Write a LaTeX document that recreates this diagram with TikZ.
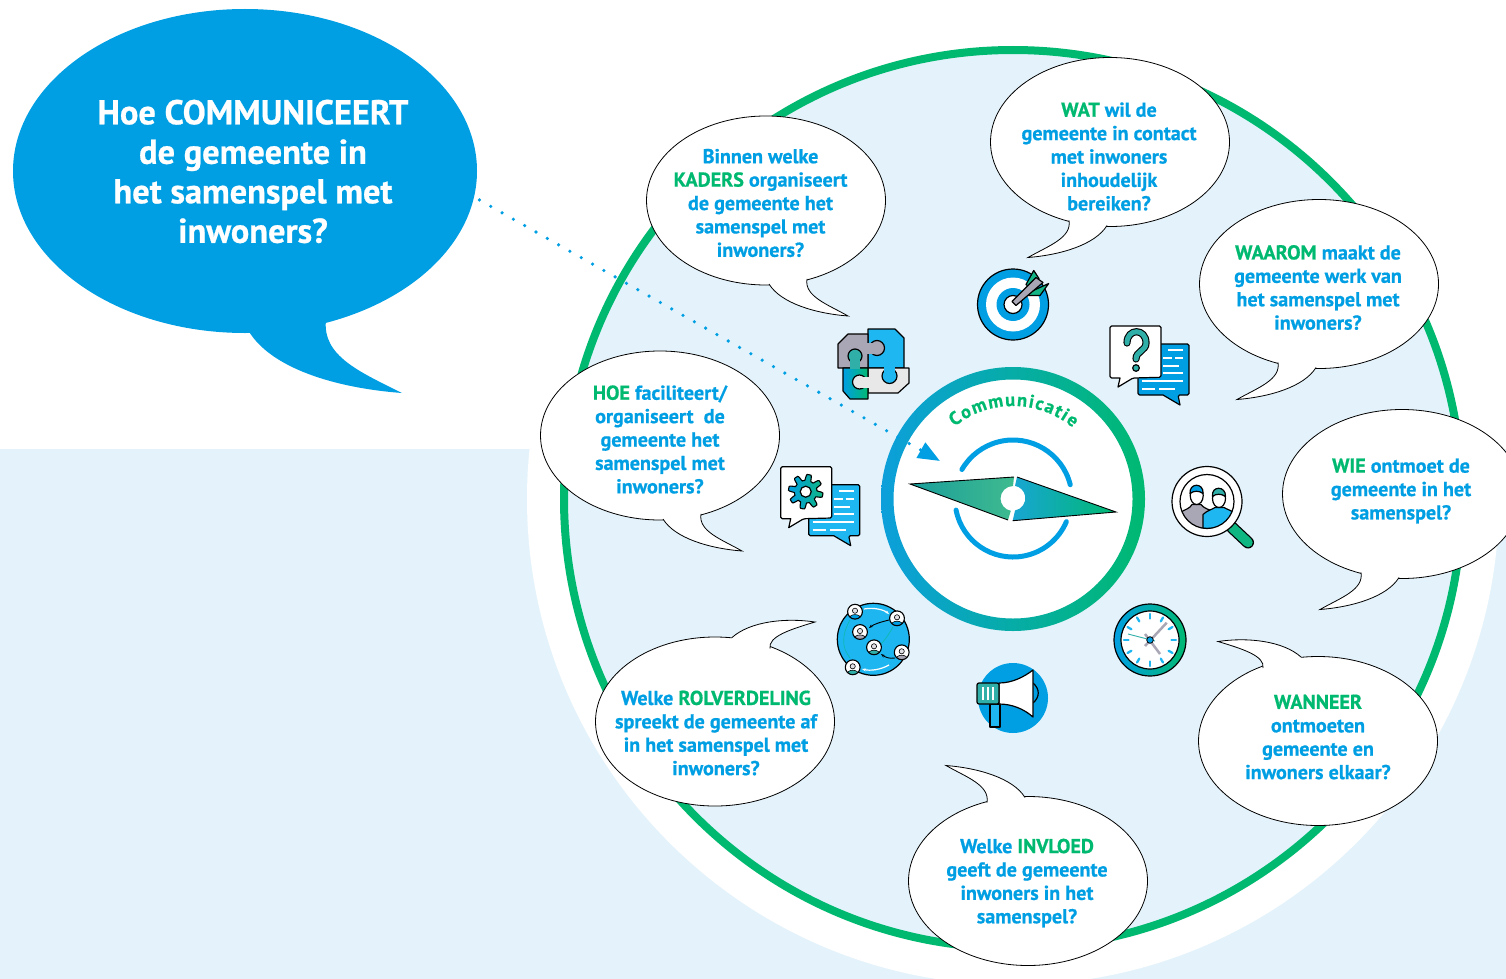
\documentclass[tikz,border=0pt]{standalone}
\usepackage{fontspec}
\setmainfont{PT Sans}[BoldFeatures={FakeBold=0.7}]
\usetikzlibrary{shapes.geometric,arrows.meta,decorations.text}

\definecolor{qblue}{HTML}{009FE3}
\definecolor{qgreen}{HTML}{00B971}
\definecolor{qlight}{HTML}{E4F3FB}
\definecolor{qsky}{HTML}{1FB7F2}
\definecolor{qteal}{HTML}{2FAFA8}
\definecolor{qgrey}{HTML}{A9A7B5}
\definecolor{qmidblue}{HTML}{3CAFBC}
\definecolor{qmidgreen}{HTML}{3FBB8F}
\definecolor{qringleft}{HTML}{0C9FDB}
\definecolor{qringmid}{HTML}{45B5AE}
\definecolor{qtip}{HTML}{1A9E9B}

\tikzset{
  bubble/.style={ellipse,draw=black,fill=white,line width=0.8pt,inner sep=0pt,outer sep=0pt,
    minimum width=239pt,minimum height=169pt},
  qtext/.style={align=center,text=qblue,font=\bfseries\fontsize{20.1}{23.4}\selectfont},
  iconline/.style={draw=black,line width=1.2pt,line join=round},
}

\newcommand{\kw}[1]{\textcolor{qgreen}{#1}}

% tail below a bubble, flipped with the two scales
\newcommand{\bubbletail}[3]{
  \begin{scope}[shift={(#1.center)},xscale=#2,yscale=#3]
    \fill[white] (3,83.5) .. controls (15,103) and (50,113) .. (82,115.5)
      .. controls (62,104) and (38,96) .. (41,78.4) -- (0,0) -- cycle;
    \draw[line width=0.8pt,line join=miter] (3,83.5) .. controls (15,103) and (50,113) .. (82,115.5)
      .. controls (62,104) and (38,96) .. (41,78.4);
  \end{scope}
}
% tail up and sideways
\newcommand{\bubbletailside}[2]{
  \begin{scope}[shift={(#1.center)},xscale=#2]
    \fill[white] (17,-84) .. controls (35,-100) and (70,-104) .. (100,-99.5)
      .. controls (75,-92) and (53,-85) .. (55,-73) -- (0,0) -- cycle;
    \draw[line width=0.8pt] (17,-84) .. controls (35,-100) and (70,-104) .. (100,-99.5)
      .. controls (75,-92) and (53,-85) .. (55,-73);
  \end{scope}
}
% the two speech boxes of the question and gear icons
\newcommand{\chaticon}[2]{
  \begin{scope}[shift={#1}]
    \path[iconline,fill=#2,rounded corners=1.5pt] (-11,-20) -- (40,-20) -- (40,31) -- (29,31)
      [sharp corners] -- (31,41) -- (14,31) [rounded corners=1.5pt] -- (-11,31) -- cycle;
    \draw[white,line width=1.8pt] (19,-14) -- (34,-14) (14,-6) -- (23,-6) (26,-6) -- (34,-6)
      (14,2) -- (30,2) (14,9) -- (34,9) (-7,17) -- (34,17) (-7,25) -- (6,25) (10,25) -- (26,25);
    \path[iconline,fill=white,rounded corners=1.5pt] (-39,-38) -- (12,-38) -- (12,13.3) -- (-16,14)
      [sharp corners] -- (-31,23) -- (-29,14) [rounded corners=1.5pt] -- (-39,14) -- cycle;
  \end{scope}
}
\newcommand{\netperson}[3]{
  \begin{scope}
    \clip (#1,#2) circle[radius=7.2pt];
    \fill[white] (#1,#2) circle[radius=7.2pt];
    \path[draw=black,line width=0.6pt,fill=#3] (#1,#2+7.5) ellipse[x radius=6.2pt,y radius=4.6pt];
    \path[draw=black,line width=0.6pt,fill=qgrey!35] (#1,#2-1) circle[radius=2.6pt];
  \end{scope}
  \draw[black,line width=1.1pt] (#1,#2) circle[radius=7.4pt];
}

\begin{document}
\begin{tikzpicture}[x=1pt,y=-1pt]
  \clip (0,0) rectangle (1506,979);
  \fill[white] (0,0) rectangle (1506,979);
  \fill[qlight] (0,449) rectangle (1506,979);

  \coordinate (dial) at (1013,499);
  \fill[white] (dial) circle[radius=486pt];
  \draw[qgreen,fill=qlight,line width=8pt] (dial) circle[radius=449pt];

  % middle ring with the compass
  \fill[white] (dial) circle[radius=125pt];
  \shade[left color=qringleft,middle color=qringmid,right color=qgreen,even odd rule]
    (dial) circle[radius=132pt] circle[radius=119.5pt];
  \path[decorate,decoration={text along path,text color=qgreen,text align={fit to path},
      text={|\bfseries\fontsize{18.5}{24}\selectfont|Communicatie}}]
    (1013,499) ++(129:93pt) arc[start angle=129,end angle=50,radius=93pt];
  \draw[qblue,line width=5pt,line cap=round] (dial) ++(14:59pt) arc[start angle=14,end angle=150,radius=59pt];
  \draw[qblue,line width=5pt,line cap=round] (dial) ++(191:58pt) arc[start angle=191,end angle=337,radius=58pt];

  \shade[left color=qtip,middle color=qmidblue,right color=qmidgreen]
    (910,484) -- (1014,477) -- (1013,486) arc[start angle=90,end angle=260,radius=12.5pt]
    -- (1008,520) -- cycle;
  \shade[left color=qblue!60!qmidblue,middle color=qmidblue!50!qmidgreen,right color=qgreen]
    (1017,477) -- (1116,512) -- (1012.7,520.7) -- (1015,510.5)
    arc[start angle=-80,end angle=80,radius=12.5pt] -- cycle;
  \draw[line width=0.9pt] (1014,477) -- (910,484) -- (1008,520);
  \draw[line width=0.9pt] (1017,477) -- (1116,512) -- (1012.7,520.7);

  % target
  \begin{scope}[shift={(1013,304.5)}]
    \path[iconline,fill=qblue] (0,0) circle[radius=35.5pt];
    \fill[white] (0,0) circle[radius=27pt];
    \fill[qblue] (0,0) circle[radius=16.5pt];
    \path[iconline,fill=white] (0,0) circle[radius=9pt];
    \path[iconline,fill=qgreen!60!qteal] (13,-20) -- (20.7,-34) -- (26,-26) -- (18,-16) -- cycle;
    \path[iconline,fill=qgreen!60!qteal] (18,-13) -- (35.7,-21) -- (27,-9) -- (14,-9) -- cycle;
    \path[iconline,fill=qgrey] (-1,-3) -- (23,-27) -- (30,-22) -- (3,1) -- cycle;
  \end{scope}

  % puzzle
  \path[iconline,fill=qsky] (868,329) -- (895,329) -- (904,338) -- (904,368) -- (868,368) -- cycle;
  \path[iconline,fill=black!9] (868,368) -- (909,368) -- (909,383) -- (898,393) -- (868,393) -- cycle;
  \path[iconline,fill=qsky] (889.5,376) circle[radius=7.5pt];
  \fill[qsky] (884,366.5) rectangle (895,374);
  \path[iconline,fill=qgrey] (838,344) -- (848,334) -- (868,334) -- (868,368) -- (838,368) -- cycle;
  \path[iconline,fill=qgrey] (877,348) circle[radius=7.5pt];
  \fill[qgrey] (867,342.5) rectangle (874,353.5);
  \shade[left color=qblue,right color=qgreen] (843,368) -- (868,368) -- (868,399) -- (850,399) -- (843,391) -- cycle;
  \draw[line width=1.2pt,line join=round] (843,368) -- (868,368) -- (868,399) -- (850,399) -- (843,391) -- cycle;
  \path[iconline,fill=qteal] (855,356) circle[radius=7pt];
  \fill[qteal] (850,358) rectangle (860,369);
  \path[iconline,fill=black!9] (859.5,382) circle[radius=7pt];
  \fill[black!9] (861,376.5) rectangle (869,388);

  % question
  \chaticon{(1149,364)}{qblue}
  \draw[black,line width=7.2pt,line cap=round] (1127,343) .. controls (1127,328) and (1146,328) .. (1146,343)
    .. controls (1146,351) and (1136,351) .. (1136,359);
  \draw[qteal,line width=5pt,line cap=round] (1127,343) .. controls (1127,328) and (1146,328) .. (1146,343)
    .. controls (1146,351) and (1136,351) .. (1136,359);
  \path[iconline,fill=qteal] (1136,368) circle[radius=3.3pt];

  % gear
  \chaticon{(819.7,504.7)}{qsky}
  \begin{scope}[shift={(805.7,491.7)}]
    \shadedraw[draw=black,line width=1.1pt,left color=qblue,right color=qgreen!70!qteal]
      plot[domain=0:360,samples=145] ({(14.3+3*max(-1,min(1,2*sin(8*\x))))*cos(\x)},{(14.3+3*max(-1,min(1,2*sin(8*\x))))*sin(\x)}) -- cycle;
    \path[iconline,fill=white] (0,0) circle[radius=5.5pt];
  \end{scope}

  % magnifier
  \begin{scope}[shift={(1207,501.5)}]
    \draw[black,line width=12pt,line cap=round] (25,26) -- (41,41);
    \draw[qgreen!70!qteal,line width=9.5pt,line cap=round] (25,26) -- (41,41);
    \path[iconline,fill=white] (0,0) circle[radius=35pt];
    \begin{scope}
      \clip (0,0) circle[radius=27pt];
      \path[iconline,fill=qgrey] (-27,27) -- (-27,11) .. controls (-22,8) and (-17,7) .. (-15,3) -- (-6,3)
        .. controls (-3,7) and (2,8) .. (6,10) -- (6,27) -- cycle;
      \path[iconline,fill=white] (-10.3,-6) ellipse[x radius=6.5pt,y radius=9pt];
      \path[iconline,fill=qsky] (-4,27) -- (-4,13) .. controls (0,9) and (5,8) .. (8,6) -- (17,6)
        .. controls (20,8) and (25,9) .. (28,12) -- (28,27) -- cycle;
      \path[iconline,fill=white] (12,-3) ellipse[x radius=6.5pt,y radius=9pt];
      \path[iconline,fill=qblue] (-17,-8) .. controls (-18,-19) and (-3,-19) .. (-4,-8)
        .. controls (-8,-11) and (-13,-11) .. (-17,-8) -- cycle;
      \path[iconline,fill=qteal] (5.5,-5) .. controls (4,-16) and (19,-16) .. (18.5,-5)
        .. controls (14,-8) and (9,-8) .. (5.5,-5) -- cycle;
    \end{scope}
    \draw[line width=1.2pt] (0,0) circle[radius=27pt];
  \end{scope}

  % clock
  \begin{scope}[shift={(1150,640)}]
    \shade[left color=qblue,right color=qgreen] (0,0) circle[radius=36pt];
    \draw[line width=1.2pt] (0,0) circle[radius=36pt];
    \path[iconline,fill=white] (0,0) circle[radius=29pt];
    \foreach \a in {0,30,...,330}
      \draw[qsky,line width=2.3pt,line cap=round] (\a:21.5) -- (\a:26);
    \draw[qgrey,line width=2.5pt] (-5,6) -- (16.7,-17.3);
    \draw[qgrey,line width=2.5pt] (-5,-6) -- (10,14);
    \draw[qteal,line width=0.9pt] (5,1) -- (-22,-6);
    \path[draw=black,line width=0.8pt,fill=qblue] (0,0) circle[radius=3.3pt];
  \end{scope}

  % megaphone
  \fill[qblue] (1013,698) circle[radius=35pt];
  \path[iconline,fill=qsky] (990,704) rectangle (1000,727);
  \draw[line width=1.2pt] (1033,683) .. controls (1040,689) and (1040,697) .. (1033,703);
  \path[iconline,fill=white] (999,683) .. controls (1012,683) and (1024,677) .. (1033,670) -- (1033,717)
    .. controls (1024,709) and (1012,704) .. (999,704) -- cycle;
  \path[iconline,fill=qteal,rounded corners=2pt] (977,683) rectangle (999,704);
  \draw[white,line width=2pt] (983,687) -- (983,700) (988,687) -- (988,700) (993,687) -- (993,700);

  % network
  \path[iconline,fill=qsky!95!qblue] (873.3,639.3) circle[radius=36pt];
  \draw[white,line width=1.2pt,-{Stealth[length=4pt]}] (864,609) .. controls (874,607) and (884,610) .. (889,614);
  \draw[white,line width=1.2pt,-{Stealth[length=4pt]}] (889,665) .. controls (880,670) and (870,671) .. (862,669);
  \draw[black,line width=0.9pt,-{Stealth[length=4pt]}] (889,620) .. controls (881,622) and (874,624) .. (869,628);
  \draw[black,line width=0.9pt,-{Stealth[length=4pt]}] (895,658) .. controls (889,659) and (885,657) .. (881,654);
  \draw[qgreen!50!qsky,line width=0.7pt] (893,627) .. controls (889,634) and (885,640) .. (881,644);
  \draw[qgreen!50!qsky,line width=0.7pt] (850,620) .. controls (841,636) and (842,648) .. (850,658);
  \netperson{855}{611.7}{qblue}
  \netperson{897}{618.3}{qblue}
  \netperson{860}{632}{qgrey}
  \netperson{874}{647.3}{qteal}
  \netperson{901.7}{652.3}{qgrey}
  \netperson{852.7}{667.3}{qteal}

  % big question
  \fill[qblue] (248,330) .. controls (270,368) and (335,388) .. (402,393)
    .. controls (360,372) and (322,356) .. (326,320) -- cycle;
  \node[ellipse,fill=qblue,inner sep=0pt,outer sep=0pt,minimum width=464pt,minimum height=324pt] (bigq) at (245,171) {};
  \node[align=center,text=white,font=\bfseries\fontsize{34.4}{39.5}\selectfont] (bigqtext) at (253,171.5)
    {Hoe COMMUNICEERT\\de gemeente in\\het samenspel met\\inwoners?};

  % dotted connector
  \coordinate (dialtip) at (940,461);
  \draw[qblue,line width=3.6pt,line cap=round,dash pattern=on 0pt off 13pt,
    -{Triangle[length=22pt,width=17pt]}] ([shift={(7,-3)}]bigq.-8) -- (dialtip);

  % bubbles
  \node[bubble] (wat) at (1110,142) {};
  \bubbletail{wat}{-1}{1}
  \node[qtext] (wattext) at (1109,156.5) {\kw{WAT} wil de\\gemeente in contact\\met inwoners\\inhoudelijk\\bereiken?};

  \node[bubble] (kaders) at (766,200.5) {};
  \bubbletail{kaders}{1}{1}
  \node[qtext] (kaderstext) at (760.5,203) {Binnen welke\\\kw{KADERS} organiseert\\de gemeente het\\samenspel met\\inwoners?};

  \node[bubble] (waarom) at (1319,284) {};
  \bubbletail{waarom}{-1}{1}
  \node[qtext] (waaromtext) at (1318,287.5) {\kw{WAAROM} maakt de\\gemeente werk van\\het samenspel met\\inwoners?};

  \node[bubble] (wie) at (1402,494) {};
  \bubbletail{wie}{-1}{1}
  \node[qtext] (wietext) at (1401,491) {\kw{WIE} ontmoet de\\gemeente in het\\samenspel?};

  \node[bubble] (hoe) at (660,435.5) {};
  \bubbletail{hoe}{1}{1}
  \node[qtext] (hoetext) at (660,439.5) {\kw{HOE} faciliteert/\\organiseert\ \ de\\gemeente het\\samenspel met\\inwoners?};

  \node[bubble] (wanneer) at (1318,741) {};
  \bubbletailside{wanneer}{-1}
  \node[qtext] (wanneertext) at (1318,737) {\kw{WANNEER}\\ontmoeten\\gemeente en\\inwoners elkaar?};

  \node[bubble] (invloed) at (1028,881) {};
  \bubbletail{invloed}{-1}{-1}
  \node[qtext] (invloedtext) at (1027,883) {Welke \kw{INVLOED}\\geeft de gemeente\\inwoners in het\\samenspel?};

  \node[bubble] (rol) at (715,721.5) {};
  \bubbletailside{rol}{1}
  \node[qtext] (roltext) at (716,733) {Welke \kw{ROLVERDELING}\\spreekt de gemeente af\\in het samenspel met\\inwoners?};
\end{tikzpicture}
\end{document}
